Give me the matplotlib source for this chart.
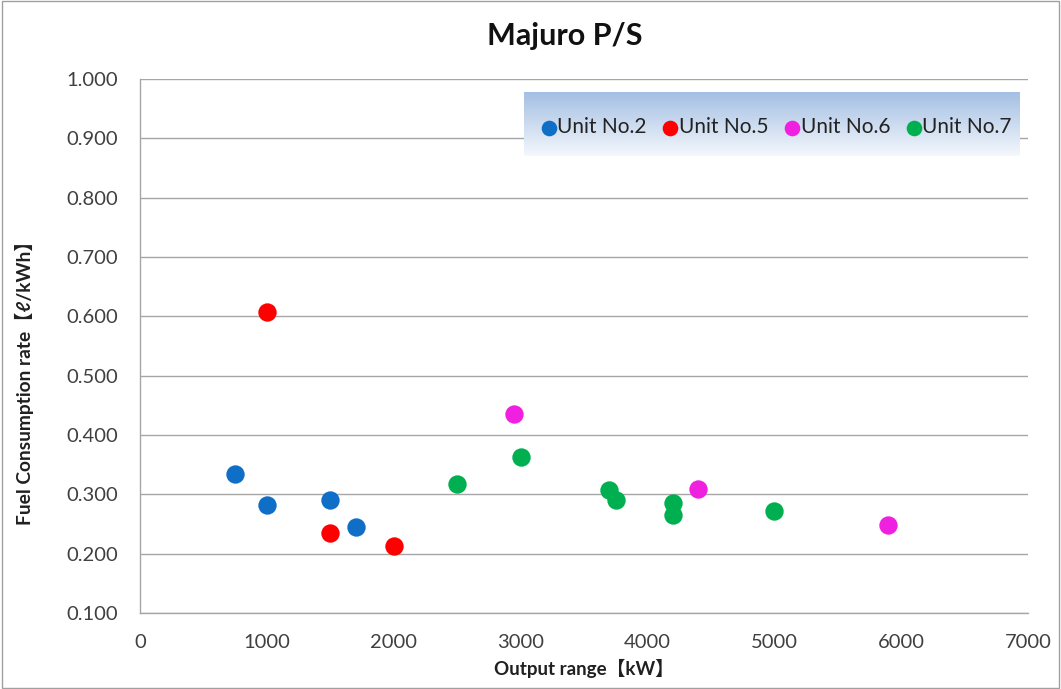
import numpy as np
import matplotlib
matplotlib.use("Agg")
import matplotlib.pyplot as plt
from matplotlib.patches import Rectangle
from matplotlib.ticker import FormatStrFormatter, MultipleLocator

plt.rcParams['font.family'] = ['Lato', 'Noto Sans CJK JP', 'DejaVu Sans']

# Output (kW) and fuel consumption rate (l/kWh) per generating unit
unit2_kw = [750, 1000, 1500, 1700]
unit2_rate = [0.334, 0.282, 0.290, 0.245]
unit5_kw = [1000, 1500, 2000]
unit5_rate = [0.607, 0.235, 0.213]
unit6_kw = [2950, 4400, 5900]
unit6_rate = [0.435, 0.309, 0.249]
unit7_kw = [2500, 3000, 3700, 3750, 4200, 4200, 5000]
unit7_rate = [0.318, 0.363, 0.308, 0.290, 0.286, 0.265, 0.272]

series = [
    ("Unit No.2", unit2_kw, unit2_rate, "#0F6FC6"),
    ("Unit No.5", unit5_kw, unit5_rate, "#FF0000"),
    ("Unit No.6", unit6_kw, unit6_rate, "#F020E0"),
    ("Unit No.7", unit7_kw, unit7_rate, "#00B050"),
]

W, H = 1061, 689
fig = plt.figure(figsize=(W / 100, H / 100), dpi=100)
fig.patch.set_facecolor("white")

# figure border
fig.patches.append(Rectangle((0.002, 0.002), 0.996, 0.996, transform=fig.transFigure,
                             fill=False, edgecolor="#A0A0A0", linewidth=1.0))

left, right, top, bottom = 140, 1028, 79, 613
ax = fig.add_axes([left / W, 1 - bottom / H, (right - left) / W, (bottom - top) / H])

for name, xs, ys, col in series:
    ax.scatter(xs, ys, s=175, color=col, label=name, zorder=3, linewidths=0)

ax.set_xlim(0, 7000)
ax.set_ylim(0.1, 1.0)
ax.xaxis.set_major_locator(MultipleLocator(1000))
ax.yaxis.set_major_locator(MultipleLocator(0.1))
ax.yaxis.set_major_formatter(FormatStrFormatter("%.3f"))
ax.grid(axis="y", color="#A6A6A6", linewidth=1.0, zorder=0)
ax.set_axisbelow(True)
for s in ["top", "right"]:
    ax.spines[s].set_visible(False)
for s in ["left", "bottom"]:
    ax.spines[s].set_color("#A6A6A6")
    ax.spines[s].set_linewidth(1.0)
ax.tick_params(length=0, labelsize=14.5, colors="#404040")
ax.tick_params(axis="x", pad=15)
ax.tick_params(axis="y", pad=16)

ax.set_xlabel("Output range【kW】", fontsize=13.5, fontweight="bold", color="#202020", labelpad=6)
fig.text(24 / W, 1 - 378 / H, "Fuel Consumption rate【ℓ/kWh】", rotation=90,
         ha="center", va="center", fontsize=13.8, fontweight="bold", color="#202020")

fig.text(565 / W, 1 - 36 / H, "Majuro P/S", ha="center", va="center",
         fontsize=22, fontweight="bold", color="#111111")

# gradient legend background
lx0, lx1, ly0, ly1 = 524, 1020, 92, 156
gax = fig.add_axes([lx0 / W, 1 - ly1 / H, (lx1 - lx0) / W, (ly1 - ly0) / H], zorder=4)
grad = np.linspace(0, 1, 100)[:, None]
top_c = np.array([0.64, 0.75, 0.89])
bot_c = np.array([0.96, 0.97, 0.99])
img = top_c[None, None, :] * (1 - grad[:, :, None]) + bot_c[None, None, :] * grad[:, :, None]
img = np.repeat(img, 2, axis=1)
gax.imshow(img, aspect="auto", extent=[0, 1, 0, 1])
gax.axis("off")

leg = ax.legend(loc="center", bbox_to_anchor=(((lx0 + lx1) / 2 + 2 - left) / (right - left),
                                               1 - ((ly0 + ly1) / 2 + 3 - top) / (bottom - top)),
                ncol=4, frameon=False, fontsize=15, handletextpad=-0.2, columnspacing=0.55,
                markerscale=0.85, borderpad=0.2, handlelength=1.2)
for t in leg.get_texts():
    t.set_color("#222222")
leg.remove()
fig.legends.append(leg)
leg.set_figure(fig)
leg.set_zorder(10)

fig.savefig("out.png", dpi=100, facecolor="white")
